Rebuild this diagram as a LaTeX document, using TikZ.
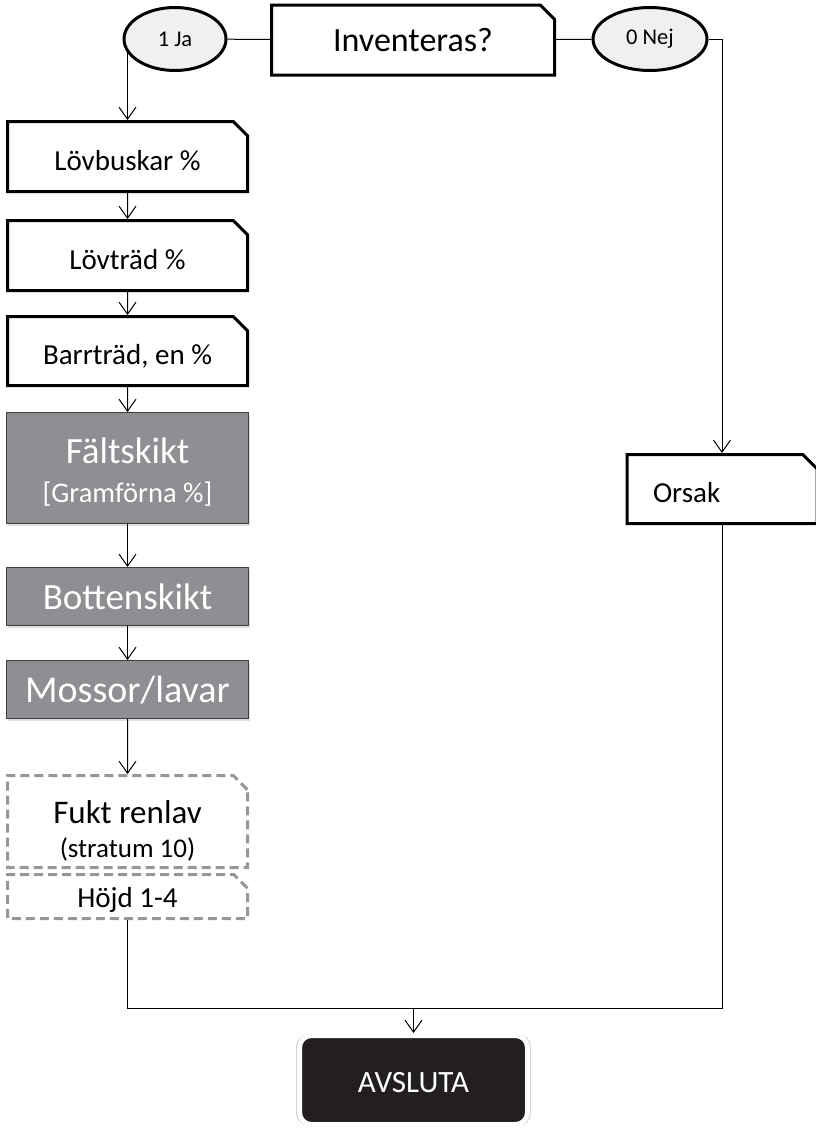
\documentclass[tikz,border=0pt]{standalone}
\usepackage{fontspec}
\setmainfont{Carlito}
\usetikzlibrary{positioning,arrows.meta,shapes.misc,shapes.geometric,shadows}
\definecolor{layergray}{HTML}{8E8F92}
\definecolor{choicefill}{HTML}{EFF0F2}
\definecolor{dashgray}{HTML}{979797}
\definecolor{endblack}{HTML}{231F20}

\begin{document}
\begin{tikzpicture}[x=1pt, y=-1pt,
  font=\fontsize{29}{34}\selectfont,
  field/.style={draw, line width=3pt, chamfered rectangle,
                chamfered rectangle corners=north east, chamfered rectangle xsep=11pt,
                minimum width=240pt, minimum height=70pt, inner sep=0pt, align=center},
  oneline/.style={text height=#1, text depth=0pt},
  oneline/.default=27pt,
  layer/.style={draw=black!75, line width=1pt, fill=layergray, text=white,
                minimum width=242pt, minimum height=58pt, inner sep=0pt, align=center,
                drop shadow={opacity=0.25, shadow xshift=1pt, shadow yshift=-2pt},
                font=\fontsize{37}{42}\selectfont},
  optional/.style={field, draw=dashgray, dash pattern=on 9pt off 5pt},
  choice/.style={ellipse, draw, line width=3pt, fill=choicefill, inner sep=0pt,
                 minimum width=102pt, minimum height=63pt, font=\fontsize{22.5}{26}\selectfont},
  finish/.style={rounded corners=12pt, fill=endblack, draw=white, line width=5pt,
                 text=white, minimum width=228pt, minimum height=89pt, inner sep=0pt,
                 general shadow={fill=black!18, shadow scale=1.03},
                 font=\fontsize{31}{36}\selectfont},
  ar/.style={-{Straight Barb[length=12pt, width=17pt]}, line width=1pt},
  ln/.style={line width=1pt}]
\useasboundingbox (0,0) rectangle (815,1130);
% top row
\node[choice] (ja) at (175,39) {1 Ja};
\node[field, minimum width=283pt, font=\fontsize{34}{40}\selectfont] (inv) at (413,40) {Inventeras?};
\node[choice, minimum width=114pt] (nej) at (650,39) {0 Nej};
\draw[ln] (ja) -- (inv);
\draw[ln] (inv) -- (nej);
% left column
\node[field, oneline] (lovbusk) at (127.5,156.5) {Lövbuskar \%};
\node[field, oneline, below=26pt of lovbusk] (lovtrad) {Lövträd \%};
\node[field, oneline, below=23pt of lovtrad, minimum height=69pt] (barr) {Barrträd, en \%};
\node[layer, below=25pt of barr, minimum height=111pt] (falt)
  {\rule{0pt}{33pt}Fältskikt\\[-3pt]{\fontsize{28.5}{32}\selectfont [Gramförna \%]}};
\node[layer, below=43pt of falt] (botten) {Bottenskikt};
\node[layer, oneline=26pt, below=34pt of botten, font=\fontsize{38}{42}\selectfont] (mossor) {Mossor/lavar};
\node[optional, below=55pt of mossor, minimum height=92pt, font=\fontsize{33}{36}\selectfont] (fukt)
  {\rule{0pt}{42pt}Fukt renlav\\[-2pt]{\fontsize{27}{30}\selectfont (stratum 10)}};
\node[optional, oneline=21pt, below=4pt of fukt, minimum height=44pt, font=\fontsize{29}{32}\selectfont] (hojd) {Höjd 1-4};
% right column
\node[field, oneline, minimum width=190pt, minimum height=69pt, text width=138pt, align=left] (orsak)
  at (722,489) {Orsak};
\node[finish, oneline=25.4pt] (avsluta) at (413.5,1080) {AVSLUTA};
\coordinate (join) at (413.5,1008);
\draw[ar] (lovbusk.north |- ja.195) -- (lovbusk.north);
\foreach \a/\b in {lovbusk/lovtrad, lovtrad/barr, barr/falt, falt/botten, botten/mossor, mossor/fukt}
  \draw[ar] (\a) -- (\b);
\draw[ar] (nej.east) -| (orsak.north);
\draw[ln] (hojd.south) |- (join) -| (orsak.south);
\draw[ar] (join) -- (avsluta.north);
\end{tikzpicture}
\end{document}
